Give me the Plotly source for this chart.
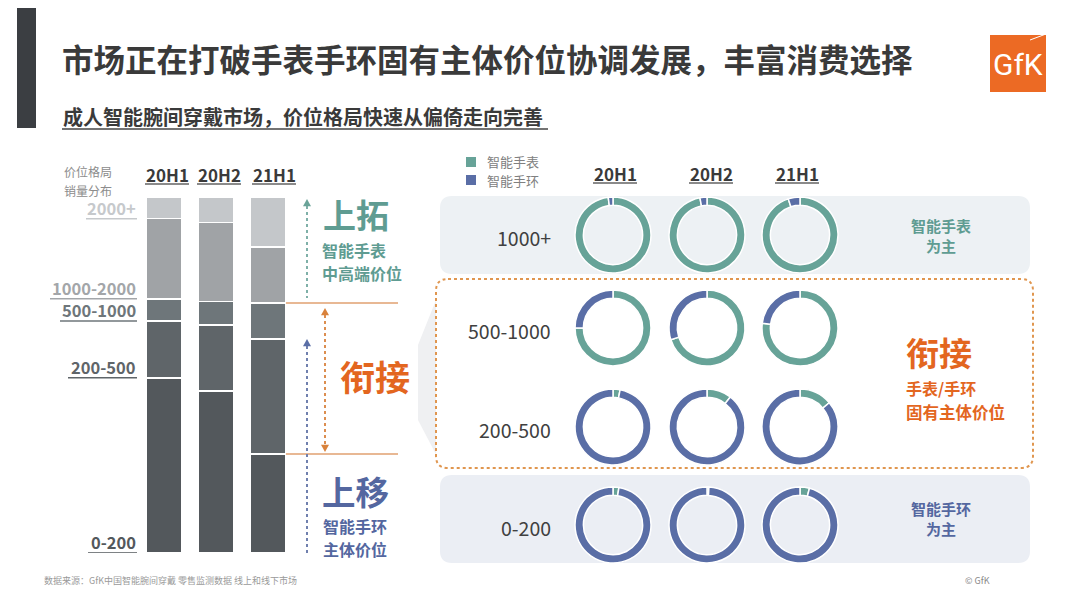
import plotly.graph_objects as go

# The page body has an 8px margin, so the figure is drawn 8px in from the top-left corner.
OFF = 8
FW, FH = 1064, 592
def X(p): return (p - OFF) / FW
def Y(p): return 1 - (p - OFF) / FH

FONT = "Noto Sans CJK SC, Noto Sans, sans-serif"

# ---------------- data ----------------
periods = ['20H1', '20H2', '21H1']
price_bands = ['0-200', '200-500', '500-1000', '1000-2000', '2000+']
share_0_200 = [49.2, 45.5, 27.8]
share_200_500 = [16.0, 18.5, 32.3]
share_500_1000 = [6.2, 6.7, 10.1]
share_1000_2000 = [22.5, 22.2, 15.7]
share_2000_plus = [6.1, 7.1, 14.1]
band_shares = [share_0_200, share_200_500, share_500_1000, share_1000_2000, share_2000_plus]

donut_rows = ['1000+', '500-1000', '200-500', '0-200']
donut_labels = ['智能手表', '智能手环']
watch_share_1000_plus = [98, 97, 95]
watch_share_500_1000 = [75, 70, 77]
watch_share_200_500 = [3, 10.5, 14]
watch_share_0_200 = [2.5, 0.8, 4]
watch_shares = [watch_share_1000_plus, watch_share_500_1000, watch_share_200_500, watch_share_0_200]

# ---------------- styles ----------------
bar_colors = ['#53585c', '#5f6569', '#6e767a', '#a0a3a6', '#c4c7ca']
label_colors = ['#53585c', '#5f6569', '#6e767a', '#a3a6a9', '#c6c9cc']
TEAL = '#67a398'
BLUE = '#5a6ea6'
TEAL_T = '#5f9c92'
BLUE_T = '#5467a0'
ORANGE = '#e3661f'
DARK = '#3a3a3a'

fig = go.Figure()

# stacked bars
for band, vals, col in zip(price_bands, band_shares, bar_colors):
    fig.add_trace(go.Bar(x=periods, y=vals, name=band,
                         marker=dict(color=col, line=dict(color='white', width=1.5)),
                         showlegend=False, hoverinfo='skip'))

# donuts
col_cx = [613, 707, 800]
row_cy = [235, 328, 427, 525]
r = 38
for ri, row in enumerate(donut_rows):
    for ci, per in enumerate(periods):
        w = watch_shares[ri][ci]
        cx, cy = col_cx[ci], row_cy[ri]
        fig.add_trace(go.Pie(values=[w, 100 - w], labels=donut_labels, hole=0.78, sort=False,
                             direction='clockwise', rotation=0, textinfo='none', hoverinfo='skip',
                             marker=dict(colors=[TEAL, BLUE], line=dict(color='white', width=1.5)),
                             domain=dict(x=[X(cx - r), X(cx + r)], y=[Y(cy + r), Y(cy - r)]),
                             showlegend=False, name=row + ' ' + per))

shapes = []
ann = []

def text(t, x, y, size, color, bold=False, xa='center', ya='middle', family=FONT, pad=1):
    ann.append(dict(text=('<b>%s</b>' % t) if bold else t, x=X(x), y=Y(y),
                    xref='paper', yref='paper', xanchor=xa, yanchor=ya, showarrow=False, borderpad=pad,
                    font=dict(family=family, size=size, color=color)))

def line(x0, y0, x1, y1, color, width=1.5, dash='solid'):
    shapes.append(dict(type='line', xref='paper', yref='paper', x0=X(x0), y0=Y(y0), x1=X(x1), y1=Y(y1),
                       line=dict(color=color, width=width, dash=dash)))

def rect(x0, y0, x1, y1, fill, layer='above'):
    shapes.append(dict(type='rect', xref='paper', yref='paper', x0=X(x0), x1=X(x1), y0=Y(y1), y1=Y(y0),
                       fillcolor=fill, line=dict(width=0), layer=layer))

def rrect(x0, y0, x1, y1, rad, fill, lc=None, lw=0, dash='solid'):
    a, b, c, d = X(x0), Y(y0), X(x1), Y(y1)
    rx, ry = rad / FW, rad / FH
    p = (f"M {a+rx},{b} L {c-rx},{b} Q {c},{b} {c},{b-ry} L {c},{d+ry} Q {c},{d} {c-rx},{d} "
         f"L {a+rx},{d} Q {a},{d} {a},{d+ry} L {a},{b-ry} Q {a},{b} {a+rx},{b} Z")
    shapes.append(dict(type='path', path=p, xref='paper', yref='paper', fillcolor=fill, layer='below',
                       line=dict(color=lc or 'rgba(0,0,0,0)', width=lw, dash=dash)))

def tri(x, y, up, color, s=4):
    if up:
        p = f"M {X(x-s)},{Y(y+s*1.8)} L {X(x+s)},{Y(y+s*1.8)} L {X(x)},{Y(y)} Z"
    else:
        p = f"M {X(x-s)},{Y(y-s*1.8)} L {X(x+s)},{Y(y-s*1.8)} L {X(x)},{Y(y)} Z"
    shapes.append(dict(type='path', path=p, xref='paper', yref='paper', fillcolor=color, line=dict(width=0)))

# left dark bar
rect(17, 8, 36, 128, '#3b3e42', 'below')
# title & subtitle
text('市场正在打破手表手环固有主体价位协调发展，丰富消费选择', 60, 58, 31.5, DARK, True, 'left')
text('成人智能腕间穿戴市场，价位格局快速从偏倚走向完善', 61, 117, 20, DARK, True, 'left')
line(62, 129, 548, 129, '#444444', 1.6)

# GfK logo
rect(990, 35, 1046, 92, '#ec6a24')
line(1030, 40, 1046, 34, 'white', 1)
text('GfK', 1018, 64, 30, 'white', False, family='Liberation Sans Narrow, Roboto, sans-serif')

# left panel headers
text('价位格局', 88, 172, 12, '#8c8c8c', pad=0)
text('销量分布', 88, 190, 12, '#8c8c8c', pad=0)
for cx, per in zip([167, 219, 274], periods):
    text(per, cx, 175, 17, DARK, True)
    line(cx - 22, 184, cx + 22, 184, '#8a8a8a', 2)

# y labels aligned to 20H1 segment bottoms
cum = 0
under_left = [88, 68, 60, 50, 86]
for i, band in enumerate(price_bands):
    ann.append(dict(text='<b>%s</b>' % band, x=X(137), y=cum, xref='paper', yref='y', xanchor='right',
                    yanchor='bottom', yshift=-2, borderpad=0, showarrow=False,
                    font=dict(family=FONT, size=16.5, color=label_colors[i])))
    shapes.append(dict(type='line', xref='paper', yref='y', x0=X(under_left[i]), x1=X(137), y0=cum, y1=cum,
                       line=dict(color=label_colors[i], width=1.5)))
    cum += band_shares[i][0]

# connectors from 21H1 bar boundaries
lo = share_0_200[2]
hi = share_0_200[2] + share_200_500[2] + share_500_1000[2]
for yv in [lo, hi]:
    shapes.append(dict(type='line', xref='paper', yref='y', x0=X(286), x1=X(398), y0=yv, y1=yv,
                       line=dict(color='#e0a070', width=1.5)))

# arrows
line(307, 206, 307, 298, '#7fb0a8', 2, 'dot'); tri(307, 199, True, '#6aa398')
line(307, 346, 307, 556, '#7080ae', 2, 'dot'); tri(307, 339, True, '#5a6ea6')
line(325, 315, 325, 445, '#dc8e50', 2, 'dot'); tri(325, 308, True, '#d9823b'); tri(325, 452, False, '#d9823b')

text('上拓', 322, 214, 33, TEAL_T, True, 'left', pad=0)
text('智能手表', 321, 250, 16, TEAL_T, True, 'left', pad=0)
text('中高端价位', 321, 273, 16, TEAL_T, True, 'left', pad=0)
text('衔接', 375, 375, 35, ORANGE, True)
text('上移', 321, 490, 33.5, BLUE_T, True, 'left', pad=0)
text('智能手环', 322, 526, 16, BLUE_T, True, 'left', pad=0)
text('主体价位', 322, 549, 16, BLUE_T, True, 'left', pad=0)

# wedge
shapes.append(dict(type='path', xref='paper', yref='paper', fillcolor='#eff0f2', layer='below', line=dict(width=0),
                   path=f"M {X(440)},{Y(290)} L {X(418)},{Y(345)} L {X(418)},{Y(420)} L {X(440)},{Y(462)} Z"))

# right panel boxes
rrect(440, 196, 1030, 274, 12, '#edf1f4')
rrect(436, 279, 1033, 468, 12, 'white', '#e0964f', 2, 'dot')
rrect(440, 475, 1030, 563, 12, '#ebeef4')

# legend (manual)
rect(466, 157, 476, 167, TEAL)
rect(466, 175, 476, 185, BLUE)
text(donut_labels[0], 485, 162, 13, '#808080', False, 'left')
text(donut_labels[1], 485, 180, 13, '#808080', False, 'left')

# right headers
for cx, per in zip([615, 711, 797], periods):
    text(per, cx, 173, 17, DARK, True)
    line(cx - 22, 183, cx + 22, 183, '#8a8a8a', 2)

# row labels
for row, cy in zip(donut_rows, row_cy):
    text(row, 553, cy + 2, 19.5, '#404040', False, 'right')

text('智能手表<br>为主', 941, 236, 15, TEAL_T, True)
text('智能手环<br>为主', 941, 518, 15, BLUE_T, True)
text('衔接', 905, 352, 33, ORANGE, True, 'left', pad=0)
text('手表/手环', 905, 388, 16, ORANGE, True, 'left', pad=0)
text('固有主体价位', 905, 412, 16.5, ORANGE, True, 'left', pad=0)

# footer
text('数据来源：GfK中国智能腕间穿戴 零售监测数据 线上和线下市场', 42, 580, 9, '#9a9a9a', False, 'left')
text('© GfK', 963, 580, 9, '#8a8a8a', False, 'left')

fig.update_layout(
    width=FW, height=FH, margin=dict(l=0, r=0, t=0, b=0),
    paper_bgcolor='white', plot_bgcolor='rgba(0,0,0,0)',
    barmode='stack', bargap=0.308, showlegend=False,
    xaxis=dict(domain=[X(138), X(294)], range=[-0.5, 2.5], visible=False, fixedrange=True),
    yaxis=dict(domain=[Y(553), Y(197)], range=[0, 100], visible=False, fixedrange=True),
    shapes=shapes, annotations=ann, font=dict(family=FONT),
)

fig.write_html("out.html")
